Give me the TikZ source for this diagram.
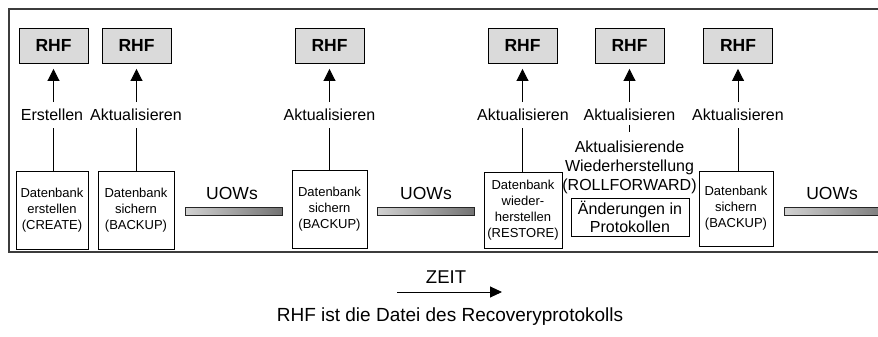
\documentclass[tikz,border=0pt]{standalone}
\usepackage{fontspec}
\setmainfont{Liberation Sans}
\usetikzlibrary{arrows.meta}
\definecolor{rhffill}{RGB}{218,218,218}
\definecolor{barL}{RGB}{210,210,210}
\definecolor{barR}{RGB}{115,115,115}
\definecolor{framec}{RGB}{60,60,60}
\begin{document}
\begin{tikzpicture}[x=1pt,y=-1pt,line width=0.9pt,
  rhf/.style={draw, fill=rhffill, minimum width=69pt, minimum height=35pt, inner sep=0pt,
    font=\fontsize{17.5}{17.5}\selectfont\bfseries},
  dbbox/.style={draw, align=center, inner sep=0pt, minimum height=78pt,
    font=\fontsize{13}{16}\selectfont},
  lbl/.style={inner sep=0pt, outer sep=0pt, font=\fontsize{16}{19}\selectfont},
  uow/.style={inner sep=0pt, font=\fontsize{17.5}{19}\selectfont},
  bar/.style={draw=black!85, line width=0.8pt, left color=barL, right color=barR,
    minimum height=8pt, inner sep=0pt},
  uparrow/.style={-{Triangle[length=12pt,width=12pt]}, shorten <=7pt, shorten >=5.5pt},
  lowline/.style={shorten >=7pt}
]
\clip (0,0) rectangle (878,337);
% frame (open at right)
\coordinate (fTR) at (880,9);
\coordinate (fTL) at (9,9);
\coordinate (fBL) at (9,252);
\coordinate (fBR) at (880,252);
\draw[framec, line width=1.5pt] (fTR) -- (fTL) -- (fBL) -- (fBR);

% RHF boxes
\node[rhf] (r1) at (53.5,45.5) {RHF};
\node[rhf] (r2) at (136.5,45.5) {RHF};
\node[rhf] (r3) at (329.5,45.5) {RHF};
\node[rhf] (r4) at (522.5,45.5) {RHF};
\node[rhf] (r5) at (629.5,45.5) {RHF};
\node[rhf] (r6) at (738,45.5) {RHF};

% labels
\node[lbl] (l1) at (52,115) {Erstellen};
\node[lbl] (l2) at (136,115) {Aktualisieren};
\node[lbl] (l3) at (329.5,115) {Aktualisieren};
\node[lbl] (l4) at (523,115) {Aktualisieren};
\node[lbl] (l5) at (629.5,115) {Aktualisieren};
\node[lbl] (l6) at (738,115) {Aktualisieren};

% database boxes
\node[dbbox, minimum width=72pt] (d1) at (52,210.5) {Datenbank\\erstellen\\(CREATE)};
\node[dbbox, minimum width=76pt] (d2) at (136,210.5) {Datenbank\\sichern\\(BACKUP)};
\node[dbbox, minimum width=75pt] (d3) at (329.5,209.5) {Datenbank\\sichern\\(BACKUP)};
\node[dbbox, minimum width=78pt, minimum height=76pt] (d4) at (523,210) {Datenbank\\wieder-\\herstellen\\(RESTORE)};
\node[dbbox, minimum width=74pt, minimum height=75pt] (d6) at (736,208.5) {Datenbank\\sichern\\(BACKUP)};

% rollforward
\node[lbl, align=center] (roll) at (629.5,167.5) {Aktualisierende\\Wiederherstellung\\(ROLLFORWARD)};
\node[draw, align=center, inner sep=0pt, minimum width=118pt, minimum height=38pt,
  font=\fontsize{16}{18}\selectfont] (chg) at (630,217) {Änderungen in\\Protokollen};

% UOWs
\node[uow] (u1) at (232,193) {UOWs};
\node[uow] (u2) at (426,193) {UOWs};
\node[uow] (u3) at (832,193) {UOWs};
\node[bar, minimum width=97pt] (b1) at (233.5,211.5) {};
\node[bar, minimum width=97pt] (b2) at (425.5,211.5) {};
\node[bar, minimum width=110pt] (b3) at (839,211.5) {};

% connectors
\foreach \i in {1,2,3,4,5,6}{
  \draw[uparrow] (l\i.north -| r\i.south) -- (r\i.south);
}
\foreach \i in {1,2,3,4,6}{
  \draw[lowline] (d\i.north -| r\i.south) -- (l\i.south -| r\i.south);
}
\draw[shorten <=4pt, shorten >=9pt] (l5.south -| r5.south) -- (roll.north -| r5.south);

% time arrow
\node[inner sep=0pt, font=\fontsize{18.5}{19}\selectfont] (zeit) at (446,277) {ZEIT};
\coordinate (zs) at (397,292);
\coordinate (ze) at (502,292);
\draw[-{Triangle[length=12pt,width=11pt]}] (zs) -- (ze);

\node[inner sep=0pt, font=\fontsize{19}{20}\selectfont] (cap) at (450,317) {RHF ist die Datei des Recoveryprotokolls};
\end{tikzpicture}
\end{document}
